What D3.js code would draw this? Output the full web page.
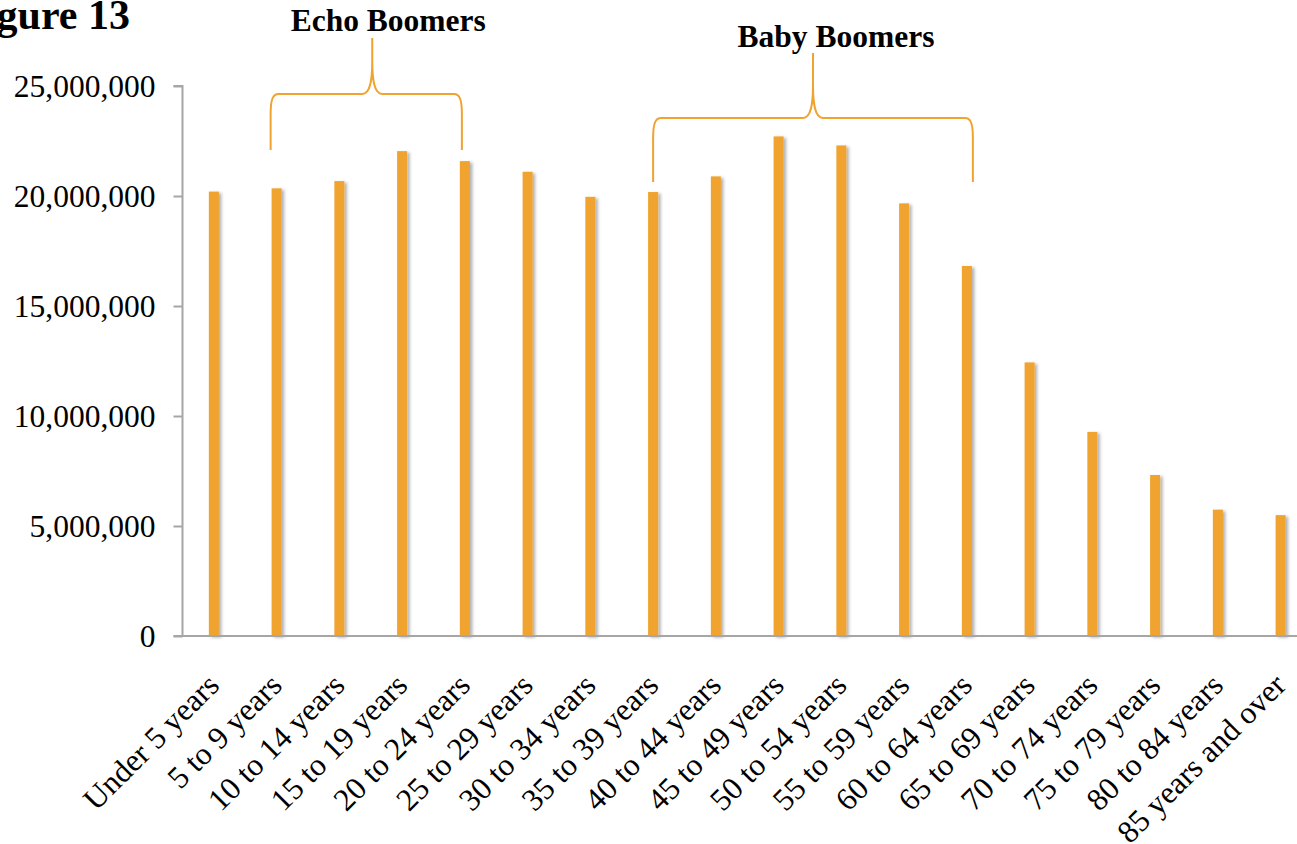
<!DOCTYPE html>
<html>
<head>
<meta charset="utf-8">
<script src="https://cdn.jsdelivr.net/npm/d3@7"></script>
<style>
  html, body { margin: 0; padding: 0; background: #fff; overflow: hidden; }
  svg { display: block; }
  text { font-family: "Liberation Serif", "Times New Roman", serif; fill: #000; }
</style>
</head>
<body>
<svg id="chart" width="1297" height="844"></svg>
<script>
// U.S. resident population by age group (2010 Census)
const categories = [
  "Under 5 years", "5 to 9 years", "10 to 14 years", "15 to 19 years",
  "20 to 24 years", "25 to 29 years", "30 to 34 years", "35 to 39 years",
  "40 to 44 years", "45 to 49 years", "50 to 54 years", "55 to 59 years",
  "60 to 64 years", "65 to 69 years", "70 to 74 years", "75 to 79 years",
  "80 to 84 years", "85 years and over"
];
const population = [
  20201362, 20348657, 20677194, 22040343, 21585999, 21101849,
  19962099, 20179642, 20890964, 22708591, 22298125, 19664805,
  16817924, 12435263, 9278166, 7317795, 5743327, 5493433
];
const yTicks = [0, 5000000, 10000000, 15000000, 20000000, 25000000];

// Generation brackets: label and first/last age group covered
const generations = ["Echo Boomers", "Baby Boomers"];
const genFrom = ["5 to 9 years", "35 to 39 years"];
const genTo = ["20 to 24 years", "60 to 64 years"];

const svg = d3.select("#chart");
const orange = "#F0A32F";
const axisGrey = "#A6A6A6";

const plot = { left: 182.5, right: 1312, top: 86, bottom: 636 };

const x = d3.scaleBand().domain(categories).range([plot.left, plot.right]).padding(0);
const y = d3.scaleLinear().domain([0, 25000000]).range([plot.bottom, plot.top]);

// soft shadow under the bars
const defs = svg.append("defs");
const f = defs.append("filter").attr("id", "barShadow")
  .attr("x", "-50%").attr("y", "-5%").attr("width", "250%").attr("height", "110%");
f.append("feDropShadow").attr("dx", 2.5).attr("dy", 1.5).attr("stdDeviation", 1.6)
  .attr("flood-color", "#000").attr("flood-opacity", 0.3);

// title
svg.append("text")
  .attr("x", 130).attr("y", 29)
  .attr("text-anchor", "end")
  .style("font-size", "42px").style("font-weight", "bold")
  .text("Figure 13");

// y axis
const yAxis = d3.axisLeft(y).tickValues(yTicks).tickSize(9).tickPadding(18)
  .tickFormat(d3.format(","));
const gy = svg.append("g").attr("transform", `translate(${plot.left},0)`).call(yAxis);
gy.select(".domain").attr("stroke", axisGrey).attr("stroke-width", 2)
  .attr("d", `M-9,${plot.top}H0V${plot.bottom}`);
gy.selectAll(".tick line").attr("stroke", axisGrey).attr("stroke-width", 2);
gy.selectAll(".tick text")
  .style("font-family", "'Liberation Serif', 'Times New Roman', serif")
  .style("font-size", "31.5px").attr("fill", "#000").attr("dy", "0.34em");

// bars
const barW = x.bandwidth() * 0.16;
svg.append("g").attr("filter", "url(#barShadow)")
  .selectAll("rect").data(population).enter().append("rect")
  .attr("x", (d, i) => x(categories[i]) + x.bandwidth() / 2 - barW / 2)
  .attr("y", d => y(d))
  .attr("width", barW)
  .attr("height", d => y(0) - y(d))
  .attr("fill", orange);

// x axis
const xAxis = d3.axisBottom(x).tickSize(0).tickPadding(0);
const gx = svg.append("g").attr("transform", `translate(0,${plot.bottom})`).call(xAxis);
gx.select(".domain").attr("stroke", axisGrey).attr("stroke-width", 2)
  .attr("d", `M${plot.left - 9},0H${plot.right}`);
gx.selectAll(".tick text")
  .style("font-family", "'Liberation Serif', 'Times New Roman', serif")
  .style("font-size", "31.5px").attr("fill", "#000")
  .attr("text-anchor", "end")
  .attr("dy", 0)
  .attr("transform", "translate(7,51) rotate(-45)");

// generation brackets (curly brace opening downward over the age groups)
const bracketGeom = [
  { yb: 150, yh: 94, yt: 38, ly: 31, dl: -6, dr: -3, dm: 6, dlab: 16 },
  { yb: 182, yh: 118, yt: 53, ly: 47, dl: 0, dr: 6, dm: 0, dlab: 23 }
];
generations.forEach((name, i) => {
  const g = bracketGeom[i];
  const x0 = x(genFrom[i]) + x.bandwidth() / 2 + g.dl;
  const x1 = x(genTo[i]) + x.bandwidth() / 2 + g.dr;
  const xm = (x0 + x1) / 2 + g.dm;
  const rx = 8, ry = 20, cusp = 33;
  const path =
    `M${x0},${g.yb} L${x0},${g.yh + ry} C${x0},${g.yh + 6} ${x0 + 2},${g.yh} ${x0 + rx},${g.yh} ` +
    `L${xm - 10},${g.yh} C${xm - 2},${g.yh} ${xm},${g.yh - 14} ${xm},${g.yh - cusp} L${xm},${g.yt} ` +
    `M${xm},${g.yh - cusp} C${xm},${g.yh - 14} ${xm + 2},${g.yh} ${xm + 10},${g.yh} ` +
    `L${x1 - rx},${g.yh} C${x1 - 2},${g.yh} ${x1},${g.yh + 6} ${x1},${g.yh + ry} L${x1},${g.yb}`;
  svg.append("path").attr("d", path)
    .attr("fill", "none").attr("stroke", orange).attr("stroke-width", 2);
  svg.append("text")
    .attr("x", xm + g.dlab).attr("y", g.ly)
    .attr("text-anchor", "middle")
    .style("font-size", "31.5px").style("font-weight", "bold")
    .text(name);
});
</script>
</body>
</html>
